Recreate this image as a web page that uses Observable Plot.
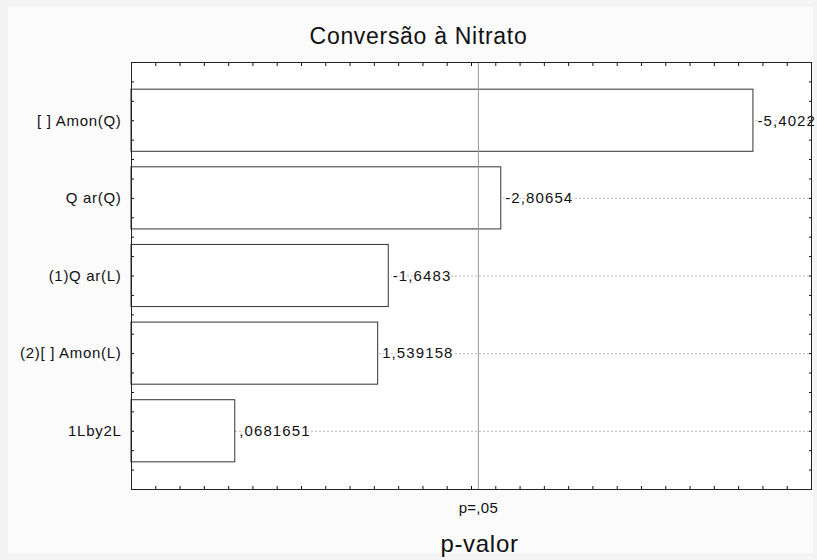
<!DOCTYPE html>
<html>
<head>
<meta charset="utf-8">
<script src="https://cdn.jsdelivr.net/npm/d3@7"></script>
<script src="https://cdn.jsdelivr.net/npm/@observablehq/plot@0.6"></script>
<style>
  html, body { margin: 0; padding: 0; background: #f4f4f4; }
  #panel { position: absolute; left: 8px; top: 7px; width: 805px; height: 546px; background: #fbfbfb; }
  #chart { position: absolute; left: 0; top: 0; }
  #chart svg { background: transparent; }
  #chart svg text { letter-spacing: 0.7px; }
  #chart svg .vals text { letter-spacing: 1.1px; }
  #chart svg .crit text { letter-spacing: 0.3px; }
</style>
</head>
<body>
<div id="panel"></div>
<div id="chart"></div>
<script>
const title = "Conversão à Nitrato";
const xLabel = "p-valor";
const critLabel = "p=,05";
const categories = ["[ ] Amon(Q)", "Q ar(Q)", "(1)Q ar(L)", "(2)[ ] Amon(L)", "1Lby2L"];
const effects = [-5.4022, -2.80654, -1.6483, 1.539158, 0.0681651];
const tCrit = 2.571;
const xDomain = [-1, 6];
const yDomain = [0.25, 5.75];

const fmt = v => String(v).replace(".", ",").replace(/^(-?)0,/, "$1,");
const rows = categories.map((c, i) => ({pos: i + 1, name: c, effect: effects[i], abs: Math.abs(effects[i]), label: fmt(effects[i])}));

const xTicks = d3.range(xDomain[0], xDomain[1] + 0.001, 0.25);
const yTicks = d3.range(yDomain[0], yDomain[1] + 0.001, 0.25);
const font = "'Liberation Sans', Arial, sans-serif";

const chart = Plot.plot({
  width: 817,
  height: 560,
  marginLeft: 131,
  marginRight: 6,
  marginTop: 62,
  marginBottom: 71,
  style: {fontFamily: font, fontSize: "15px", color: "#111", background: "transparent"},
  x: {domain: xDomain},
  y: {domain: yDomain, reverse: true},
  marks: [
    Plot.frame({fill: "white", stroke: "none"}),
    Plot.ruleY(rows, {y: "pos", stroke: "#b8b8b8", strokeDasharray: "2,2", strokeWidth: 1}),
    Plot.rectX(rows, {x1: xDomain[0], x2: "abs", y1: d => d.pos - 0.4, y2: d => d.pos + 0.4, fill: "white", stroke: "#333", strokeWidth: 1}),
    Plot.ruleX([tCrit], {stroke: "#999", strokeWidth: 1}),
    Plot.text(rows, {x: "abs", y: "pos", text: "label", dx: 4, textAnchor: "start", fill: "#111", stroke: "white", strokeWidth: 3, fontSize: 15, className: "vals"}),
    Plot.axisX({anchor: "bottom", ticks: xTicks, tickSize: -3, tickFormat: () => "", label: null}),
    Plot.axisX({anchor: "top", ticks: xTicks, tickSize: -3, tickFormat: () => "", label: null}),
    Plot.axisY({anchor: "left", ticks: yTicks, tickSize: -3, tickFormat: () => "", label: null}),
    Plot.axisY({anchor: "right", ticks: yTicks, tickSize: -3, tickFormat: () => "", label: null}),
    Plot.axisY({anchor: "left", ticks: rows.map(d => d.pos), tickSize: 0, tickPadding: 10, tickFormat: p => categories[p - 1], fontSize: 15, label: null}),
    Plot.frame({stroke: "#222", strokeWidth: 1}),
    Plot.text([critLabel], {x: tCrit, frameAnchor: "bottom", lineAnchor: "middle", dy: 19, text: d => d, fontSize: 15, className: "crit"}),
    Plot.text([xLabel], {frameAnchor: "bottom", lineAnchor: "middle", dx: 8, dy: 55, text: d => d, fontSize: 24}),
    Plot.text([title], {frameAnchor: "top", lineAnchor: "middle", dx: -53, dy: -26, text: d => d, fontSize: 23})
  ]
});
document.getElementById("chart").appendChild(chart);
</script>
</body>
</html>
